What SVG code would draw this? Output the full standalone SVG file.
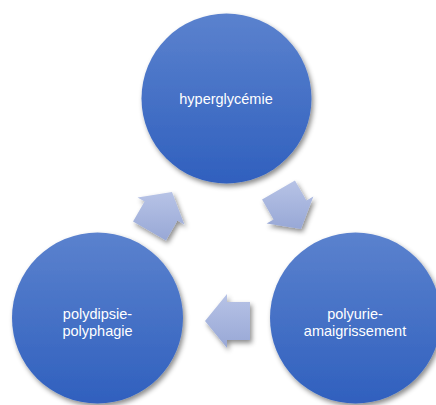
<svg xmlns="http://www.w3.org/2000/svg" width="436" height="405" viewBox="0 0 436 405">
<defs>
<linearGradient id="gc" x1="0" y1="0" x2="0" y2="1">
<stop offset="0" stop-color="#5B82CE"/>
<stop offset="1" stop-color="#3060BE"/>
</linearGradient>
<linearGradient id="ga" x1="0" y1="0" x2="0" y2="1">
<stop offset="0" stop-color="#B7C3E6"/>
<stop offset="1" stop-color="#98A8D6"/>
</linearGradient>
<filter id="sh" x="-20%" y="-20%" width="150%" height="150%">
<feDropShadow dx="2" dy="3" stdDeviation="2.5" flood-color="#000" flood-opacity="0.45"/>
</filter>
</defs>
<style>
.node{fill:url(#gc);filter:url(#sh)}
.arr{fill:url(#ga);filter:url(#sh)}
.lbl{font-family:"Liberation Sans",Arial,sans-serif;font-size:14.5px;fill:#ffffff;text-anchor:middle}
</style>
<rect width="436" height="405" fill="#ffffff"/>
<g id="connectors">
<polygon class="arr" points="133.05,221.42 144.55,201.5 137.62,197.5 172,191.95 184.38,224.5 177.45,220.5 165.95,240.42"/>
<polygon class="arr" points="294.95,180.58 306.45,200.5 313.38,196.5 301,229.05 266.62,223.5 273.55,219.5 262.05,199.58"/>
<polygon class="arr" points="250,340 227,340 227,348 205,321 227,294 227,302 250,302"/>
</g>
<g id="node-hyperglycemie">
<circle class="node" cx="226.5" cy="98.5" r="85"/>
<text class="lbl" x="226" y="104">hyperglycémie</text>
</g>
<g id="node-polydipsie">
<circle class="node" cx="97.5" cy="318" r="85.5"/>
<text class="lbl" x="97.5" y="318.5">polydipsie-</text>
<text class="lbl" x="97.5" y="336">polyphagie</text>
</g>
<g id="node-polyurie">
<circle class="node" cx="355.5" cy="318" r="85.5"/>
<text class="lbl" x="355" y="319">polyurie-</text>
<text class="lbl" x="355" y="336">amaigrissement</text>
</g>
</svg>
